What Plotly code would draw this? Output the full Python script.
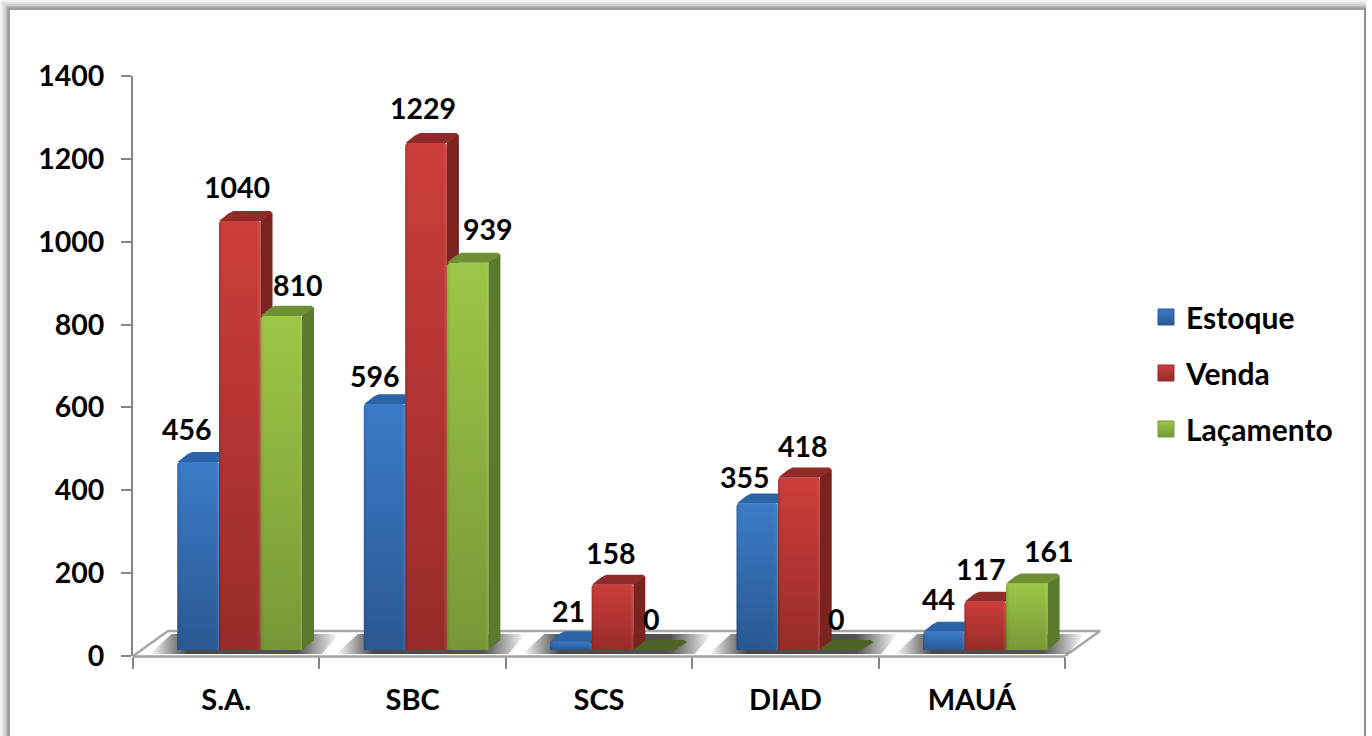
import plotly.graph_objects as go

categories = ["S.A.", "SBC", "SCS", "DIAD", "MAUÁ"]
estoque = [456, 596, 21, 355, 44]
venda = [1040, 1229, 158, 418, 117]
lancamento = [810, 939, 0, 0, 161]
series_names = ["Estoque", "Venda", "Laçamento"]
y_ticks = [0, 200, 400, 600, 800, 1000, 1200, 1400]

# label nudges (px: right, up) relative to the top centre of each bar
label_dx = [[-11, -10, -3, -12, -5], [-3, -3, -2, 4, -4], [17, 20, -3, -4, 22]]
label_dy = [[33, 28, 30, 27, 33], [34, 35, 32, 32, 33], [31, 34, 31, 31, 33]]

FONT = "Lato"
W, H = 1372, 736
L, R, T, B = 133, 1065, 76, 656
R_PLOT = 1125                  # plot area runs past the last category for the 3D floor
PX_X = 1 / ((R - L) / 5)       # x axis units per pixel
V_PX = 0.4125                  # px per value on the bar (projected) scale
PX_Y = 1 / V_PX
VAL_MIN = -(B - 650) / V_PX
VAL_MAX = (650 - T) / V_PX
BAR_W = 41.5 * PX_X
BAR_START = 44.5 * PX_X
DX, DY = 12 * PX_X, 10 * PX_Y
FLOOR_DX, FLOOR_DY = 35 * PX_X, 25 * PX_Y
FLOOR_FRONT = VAL_MIN
CX, CY = 2.5 * PX_X, 2.5 * PX_Y   # softened corners

front_top = ["#3b7bc8", "#cc3e3b", "#9ec646"]
front_bot = ["#2a5892", "#982b29", "#779737"]
side_col = ["#254c80", "#7a2321", "#5c7a2b"]
top_col = ["#2c62a6", "#902b29", "#6f8f33"]
flat_col = ["#2c62a6", "#902b29", "#4f6228"]
all_vals = [estoque, venda, lancamento]

fig = go.Figure()


def px(x):
    return (x - L) / (R_PLOT - L)


def py(y):
    return (B - y) / (B - T)


def poly(xs, ys, **kw):
    fig.add_trace(go.Scatter(x=xs + xs[:1], y=ys + ys[:1], mode="lines", fill="toself",
                             line=dict(width=0), showlegend=False, hoverinfo="skip", **kw))


# real bars (front faces)
for s, name in enumerate(series_names):
    fig.add_trace(go.Bar(x=[i + BAR_START + s * BAR_W for i in range(5)], y=all_vals[s],
                         width=BAR_W, offset=0, name=name, showlegend=False,
                         marker=dict(color=front_bot[s], line=dict(width=0), cornerradius=3)))

# floor
floor_x = [5, 5 + FLOOR_DX, FLOOR_DX, 0]
floor_y = [FLOOR_FRONT, FLOOR_FRONT + FLOOR_DY, FLOOR_FRONT + FLOOR_DY, FLOOR_FRONT]
fig.add_trace(go.Scatter(x=floor_x, y=floor_y, mode="lines",
                         line=dict(color="#a6a6a6", width=2.5), showlegend=False, hoverinfo="skip"))

# floor shadows
shadow = dict(type="horizontal", colorscale=[[0, "rgba(40,40,40,0)"], [0.2, "rgba(40,40,40,0.85)"],
                                             [0.78, "rgba(40,40,40,0.8)"], [1, "rgba(40,40,40,0)"]])
for i in range(5):
    x0 = i + BAR_START - 28 * PX_X
    x1 = i + BAR_START + 3 * BAR_W + 20 * PX_X
    s0, s1 = -4 * PX_Y, 16 * PX_Y
    poly([x0, x1, x1 + 17 * PX_X, x0 + 22 * PX_X], [s0, s0, s1, s1], fillgradient=shadow)

# side + top + front of every bar, back to front
for i in range(5):
    for s in range(3):
        v = all_vals[s][i]
        x0 = i + BAR_START + s * BAR_W
        x1 = x0 + BAR_W
        tc = flat_col[s] if v == 0 else top_col[s]
        if v > 0:
            poly([x1, x1 + DX, x1 + DX, x1 + DX - CX, x1],
                 [0, DY, v + DY - CY, v + DY, v], fillcolor=side_col[s])
        poly([x0, x1, x1 + DX, x1 + DX - CX, x0 + DX + CX, x0 + DX - CX],
             [v, v, v + DY - CY, v + DY, v + DY, v + DY - CY], fillcolor=tc)
        if v > 0:
            c = min(CY, v)
            xs = [x0, x1, x1, x1 - CX, x0 + CX, x0]
            ys = [0, 0, v - c, v, v, v - c]
            poly(xs, ys, fillgradient=dict(type="vertical",
                                           colorscale=[[0, front_bot[s]], [1, front_top[s]]]))
            poly(xs, ys, fillgradient=dict(type="horizontal",
                                           colorscale=[[0, "rgba(0,0,0,0.12)"], [0.08, "rgba(0,0,0,0)"],
                                                       [0.92, "rgba(255,255,255,0)"], [1, "rgba(255,255,255,0.12)"]]))

# legend entries; they also keep the visible 0-1400 axis alive
for s, name in enumerate(series_names):
    fig.add_trace(go.Scatter(x=[None], y=[None], mode="markers", name=name, legendgroup=name, yaxis="y2",
                             marker=dict(symbol="square", size=18, color=front_top[s],
                                         gradient=dict(type="vertical", color=front_bot[s]),
                                         line=dict(width=1, color=front_bot[s]))))

annotations = []
for s in range(3):
    for i in range(5):
        annotations.append(dict(x=i + BAR_START + (s + 0.5) * BAR_W, y=all_vals[s][i], xref="x", yref="y",
                                text=str(all_vals[s][i]), showarrow=False, xanchor="center", yanchor="middle",
                                xshift=label_dx[s][i], yshift=label_dy[s][i],
                                font=dict(family=FONT, size=28.5, color="#000", weight=700)))

# outer frame with its soft shadow
shapes = []
for off, col in [(9, "#f2f2f2"), (7, "#e2e2e2"), (5, "#cfcfcf"), (3, "#b8b8b8"), (1.5, "#9c9c9c")]:
    shapes.append(dict(type="rect", xref="paper", yref="paper", layer="below", line=dict(width=0), fillcolor=col,
                       x0=px(9 - off), x1=px(1366), y0=py(9 - off), y1=py(760)))
shapes.append(dict(type="rect", xref="paper", yref="paper", layer="below",
                   line=dict(width=0), fillcolor="#ffffff",
                   x0=px(10), x1=px(1364), y0=py(10), y1=py(760)))
shapes.append(dict(type="line", xref="paper", yref="paper", layer="below",
                   line=dict(width=2, color="#8c8c8c"), x0=px(1365), x1=px(1365), y0=py(8), y1=py(760)))
# x axis line / floor front edge, ends at the last category
shapes.append(dict(type="line", xref="paper", yref="paper", layer="above",
                   line=dict(width=2.5, color="#a0a0a0"), x0=px(L), x1=px(R), y0=py(B + 0.5), y1=py(B + 0.5)))

fig.update_layout(
    width=W, height=H, autosize=False,
    margin=dict(l=L, r=W - R_PLOT, t=T, b=H - B, pad=0),
    paper_bgcolor="#ffffff", plot_bgcolor="rgba(0,0,0,0)",
    barmode="overlay", shapes=shapes, annotations=annotations,
    font=dict(family=FONT, color="#000"),
    xaxis=dict(range=[0, (R_PLOT - L) * PX_X], tickmode="array", tickvals=[i + 0.5 for i in range(5)],
               ticktext=categories, showgrid=False, zeroline=False, showline=False,
               ticks="outside", ticklen=18, tickcolor="rgba(0,0,0,0)",
               tickfont=dict(family=FONT, size=29, color="#000", weight=700),
               minor=dict(tickmode="array", tickvals=list(range(6)), ticks="outside", ticklen=12,
                          tickcolor="#868686", tickwidth=2, showgrid=False)),
    yaxis=dict(range=[VAL_MIN, VAL_MAX], visible=False, fixedrange=True),
    yaxis2=dict(range=[0, 1400], overlaying="y", side="left", anchor="x", tickmode="array", tickvals=y_ticks,
                showgrid=False, zeroline=False, showline=True, linecolor="#868686", linewidth=2,
                ticks="outside", ticklen=10, tickcolor="#868686", tickwidth=2, ticklabelstandoff=11,
                tickfont=dict(family=FONT, size=28.5, color="#000", weight=700)),
    legend=dict(x=px(1146), xanchor="left", y=py(373), yanchor="middle", tracegroupgap=14,
                bgcolor="rgba(0,0,0,0)", itemwidth=30,
                font=dict(family=FONT, size=30, color="#000", weight=700)),
)

fig.write_html("out.html", config={"displayModeBar": False},
               post_script="document.body.style.margin='0';")
